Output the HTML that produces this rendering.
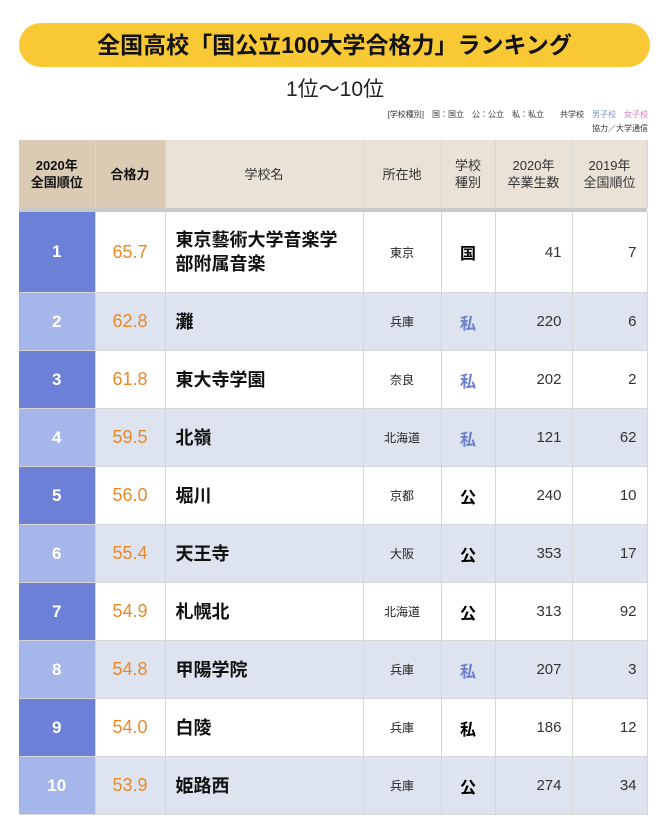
<!DOCTYPE html>
<html><head><meta charset="utf-8"><style>
body{margin:0;width:670px;height:837px;background:#fff;font-family:"Liberation Sans","Noto Sans CJK JP",sans-serif;position:relative;overflow:hidden}
.banner{position:absolute;left:19px;top:23px;width:631px;height:44px;background:#f9c935;border-radius:22px;text-align:center;line-height:44px;font-size:23px;font-weight:bold;color:#111}
.sub{position:absolute;left:0;width:670px;top:73px;text-align:center;font-size:21px;color:#222}
.leg{position:absolute;right:22px;font-size:8px;color:#333}
table{position:absolute;left:19px;top:140px;border-collapse:collapse;table-layout:fixed}
td,th{padding:0;border-right:1px solid #d6d6d6}
th{background:#eae1d7;font-weight:normal;font-size:13px;color:#333;height:68px;line-height:17px}
th.dk{background:#dccbb4;font-weight:bold;color:#111}
tr.sep td{height:4px;background:#c9c9c9;border:none}
td{height:57px;border-bottom:1px solid #d6d6d6}
.rk{color:#fff;font-size:17px;font-weight:bold;text-align:center;background:#6b80d6}
tr.ev .rk{background:#a5b6ea}
tr.ev td{background:#dde3ef}
tr.ev td.rk{background:#a5b6ea}
.sc{color:#e8892a;font-size:18px;text-align:center}
.nm{font-size:18px;font-weight:bold;color:#111;padding-left:10px;line-height:24px}
.loc{font-size:12px;text-align:center;color:#222}
.ty{font-size:16px;font-weight:bold;text-align:center}
.bl{color:#6b7fcc}
.num{font-size:15px;text-align:right;padding-right:10px;color:#333}
</style></head><body>
<div class="banner">全国高校「国公立100大学合格力」ランキング</div>
<div class="sub">1位～10位</div>
<div class="leg" style="top:109px">[学校種別]　国：国立　公：公立　私：私立　　共学校　<span style="color:#7f8fd0">男子校</span>　<span style="color:#e07ab8">女子校</span></div>
<div class="leg" style="top:123px">協力／大学通信</div>
<table>
<colgroup><col style="width:76px"><col style="width:70px"><col style="width:198px"><col style="width:78px"><col style="width:54px"><col style="width:77px"><col style="width:75px"></colgroup>
<tr><th class="dk">2020年<br>全国順位</th><th class="dk">合格力</th><th>学校名</th><th>所在地</th><th>学校<br>種別</th><th>2020年<br>卒業生数</th><th>2019年<br>全国順位</th></tr>
<tr class="sep"><td colspan="7"></td></tr>
<tr><td class="rk" style="height:80px">1</td><td class="sc">65.7</td><td class="nm">東京藝術大学音楽学<br>部附属音楽</td><td class="loc">東京</td><td class="ty">国</td><td class="num">41</td><td class="num">7</td></tr>
<tr class="ev"><td class="rk">2</td><td class="sc">62.8</td><td class="nm">灘</td><td class="loc">兵庫</td><td class="ty bl">私</td><td class="num">220</td><td class="num">6</td></tr>
<tr><td class="rk">3</td><td class="sc">61.8</td><td class="nm">東大寺学園</td><td class="loc">奈良</td><td class="ty bl">私</td><td class="num">202</td><td class="num">2</td></tr>
<tr class="ev"><td class="rk">4</td><td class="sc">59.5</td><td class="nm">北嶺</td><td class="loc">北海道</td><td class="ty bl">私</td><td class="num">121</td><td class="num">62</td></tr>
<tr><td class="rk">5</td><td class="sc">56.0</td><td class="nm">堀川</td><td class="loc">京都</td><td class="ty">公</td><td class="num">240</td><td class="num">10</td></tr>
<tr class="ev"><td class="rk">6</td><td class="sc">55.4</td><td class="nm">天王寺</td><td class="loc">大阪</td><td class="ty">公</td><td class="num">353</td><td class="num">17</td></tr>
<tr><td class="rk">7</td><td class="sc">54.9</td><td class="nm">札幌北</td><td class="loc">北海道</td><td class="ty">公</td><td class="num">313</td><td class="num">92</td></tr>
<tr class="ev"><td class="rk">8</td><td class="sc">54.8</td><td class="nm">甲陽学院</td><td class="loc">兵庫</td><td class="ty bl">私</td><td class="num">207</td><td class="num">3</td></tr>
<tr><td class="rk">9</td><td class="sc">54.0</td><td class="nm">白陵</td><td class="loc">兵庫</td><td class="ty">私</td><td class="num">186</td><td class="num">12</td></tr>
<tr class="ev"><td class="rk">10</td><td class="sc">53.9</td><td class="nm">姫路西</td><td class="loc">兵庫</td><td class="ty">公</td><td class="num">274</td><td class="num">34</td></tr>
</table>
</body></html>
